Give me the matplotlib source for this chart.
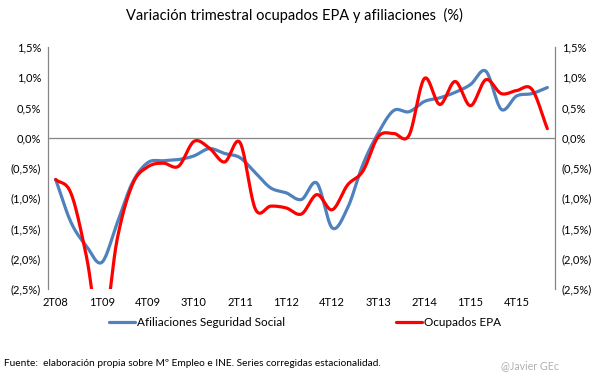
import numpy as np
import matplotlib
matplotlib.use("Agg")
import matplotlib.pyplot as plt
from matplotlib.ticker import FuncFormatter

plt.rcParams['font.family'] = ['Lato', 'DejaVu Sans']

categories = ['2T08', '3T08', '4T08', '1T09', '2T09', '3T09', '4T09', '1T10', '2T10', '3T10',
              '4T10', '1T11', '2T11', '3T11', '4T11', '1T12', '2T12', '3T12', '4T12', '1T13',
              '2T13', '3T13', '4T13', '1T14', '2T14', '3T14', '4T14', '1T15', '2T15', '3T15',
              '4T15', '1T16', '2T16']

afiliaciones = [-0.69, -1.40, -1.79, -2.06, -1.41, -0.74, -0.41, -0.38, -0.36, -0.30,
                -0.18, -0.26, -0.33, -0.58, -0.83, -0.91, -1.02, -0.75, -1.49, -1.16,
                -0.44, 0.08, 0.45, 0.43, 0.60, 0.66, 0.75, 0.88, 1.10, 0.47,
                0.69, 0.73, 0.83]

ocupados_epa = [-0.69, -0.92, -1.96, -3.30, -1.68, -0.77, -0.48, -0.42, -0.47, -0.06,
                -0.17, -0.40, -0.08, -1.18, -1.13, -1.16, -1.26, -0.94, -1.19, -0.78,
                -0.55, 0.02, 0.07, 0.04, 0.98, 0.55, 0.93, 0.53, 0.96, 0.73,
                0.78, 0.80, 0.15]

series_names = ['Afiliaciones Seguridad Social', 'Ocupados EPA']
title = 'Variación trimestral ocupados EPA y afiliaciones  (%)'
source = 'Fuente:  elaboración propia sobre Mº Empleo e INE. Series corregidas estacionalidad.'
signature = '@Javier GEc'


def smooth(y, n=20):
    """Catmull-Rom smoothing (like Excel's smoothed line) through every value."""
    y = np.asarray(y, float)
    x = np.arange(len(y), dtype=float)
    xs, ys = [], []
    for i in range(len(y) - 1):
        p0 = y[i - 1] if i > 0 else y[i]
        p3 = y[i + 2] if i + 2 < len(y) else y[i + 1]
        p1, p2 = y[i], y[i + 1]
        m1 = (p2 - p0) / 2.0 if i > 0 else (p2 - p1)
        m2 = (p3 - p1) / 2.0 if i + 2 < len(y) else (p2 - p1)
        t = np.linspace(0, 1, n, endpoint=False)
        h00 = 2 * t**3 - 3 * t**2 + 1
        h10 = t**3 - 2 * t**2 + t
        h01 = -2 * t**3 + 3 * t**2
        h11 = t**3 - t**2
        xs.append(x[i] + t)
        ys.append(h00 * p1 + h10 * m1 + h01 * p2 + h11 * m2)
    xs.append([x[-1]])
    ys.append([y[-1]])
    return np.concatenate(xs), np.concatenate(ys)


fig = plt.figure(figsize=(6.05, 3.78), dpi=100)
ax = fig.add_axes([48 / 605, 1 - 289 / 378, (555 - 48) / 605, (289 - 47) / 378])

blue = '#4F81BD'
red = '#FF0000'
xb, yb = smooth(afiliaciones)
xr, yr = smooth(ocupados_epa)
ax.plot(xb, yb, color=blue, lw=2.3, label=series_names[0], solid_capstyle='round', zorder=3)
ax.plot(xr, yr, color=red, lw=2.3, label=series_names[1], solid_capstyle='round', zorder=4)

ax.set_xlim(-0.5, len(categories) - 0.5)
ax.set_ylim(-2.5, 1.5)
ax.axhline(0, color='#868686', lw=0.9, zorder=2)

for s in ['top', 'bottom']:
    ax.spines[s].set_visible(False)
for s in ['left', 'right']:
    ax.spines[s].set_color('#868686')
    ax.spines[s].set_linewidth(0.9)


def fmt(v, pos):
    s = f'{abs(v):.1f}'.replace('.', ',') + '%'
    return f'({s})' if v < -1e-9 else s


yt = np.arange(-2.5, 1.51, 0.5)
ax.set_yticks(yt)
ax.yaxis.set_major_formatter(FuncFormatter(fmt))
ax.tick_params(axis='y', length=0, labelsize=8, colors='#000000', pad=5,
               left=True, right=True, labelleft=True, labelright=True)

xt = list(range(0, len(categories), 3))
ax.set_xticks(xt)
ax.set_xticklabels([categories[i] for i in xt])
ax.tick_params(axis='x', length=0, labelsize=8, pad=6)

fig.text(0.487, 1 - 15 / 378, title, ha='center', va='center', fontsize=10.5)

leg = fig.legend(loc='center', bbox_to_anchor=(305 / 605, 1 - 323 / 378), ncol=2,
                 frameon=False, fontsize=8.5, handlelength=2.2, handletextpad=0.15,
                 columnspacing=9.4)

fig.text(4 / 605, 1 - 364 / 378, source, ha='left', va='center', fontsize=7.3)
fig.text(530 / 605, 1 - 366 / 378, signature, ha='center', va='center', fontsize=7.7,
         color='#B0B0B0')

fig.savefig('out.png', dpi=100)
